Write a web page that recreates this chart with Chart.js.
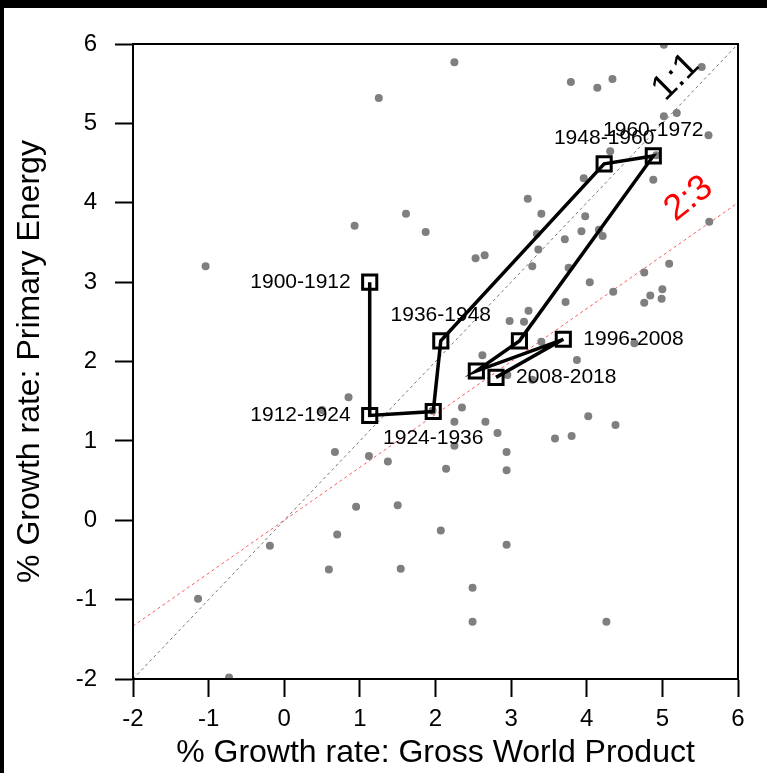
<!DOCTYPE html>
<html>
<head>
<meta charset="utf-8">
<script src="https://cdn.jsdelivr.net/npm/chart.js@4.4.1/dist/chart.umd.min.js"></script>
<style>
  html, body { margin: 0; padding: 0; background: #000; overflow: hidden; }
  #wrap { position: absolute; left: 4px; top: 8px; width: 763px; height: 765px; background: #fff; }
</style>
</head>
<body>
<div id="wrap"><canvas id="chart" width="763" height="765"></canvas></div>
<script>
// decade averages (path)
const periods = ["1900-1912", "1912-1924", "1924-1936", "1936-1948", "1948-1960",
  "1960-1972", "1972-1984", "1984-1996", "1996-2008", "2008-2018"];
const periodGwp = [1.13, 1.13, 1.97, 2.07, 4.23, 4.88, 3.11, 2.54, 3.69, 2.80];
const periodEnergy = [3.00, 1.32, 1.37, 2.26, 4.49, 4.59, 2.26, 1.88, 2.28, 1.80];
// where the label goes: left / right / above / below, "" = no label
const labelPos = ["left", "left", "below", "above", "above", "above", "", "", "right", "right"];

// yearly values (grey dots)
const yearGwp = [2.25, 1.25, 3.79, 4.14, 4.34, 5.02, 5.52, 5.02, 5.19, 5.61,
  4.31, 3.96, 4.88, 3.22, 3.40, 3.98, 3.93, 3.34, 4.16, 4.21,
  3.71, 3.36, 2.53, 2.65, 3.28, 3.76, 4.04, 4.35, 3.72, 3.23,
  2.98, 3.17, 3.40, 2.62, 3.87, 2.95, 3.28, 4.63, 5.62, 5.09,
  4.76, 5.00, 4.84, 4.99, 4.76, 0.93, 1.61, 1.87, -1.04, 0.85,
  0.50, 1.96, 2.35, 2.25, 2.66, 2.82, 4.02, 4.38, 3.58, 3.80,
  2.25, 2.94, 2.14, 2.94, 0.67, 1.12, 1.37, 0.95, 1.50, 0.70,
  -0.19, 0.59, 1.54, -1.14, -0.73, 2.07, 2.94, 2.49, 2.49, 4.26, 4.92];
const yearEnergy = [5.77, 5.32, 5.52, 5.45, 5.56, 5.99, 5.71, 5.09, 5.13, 4.85,
  4.65, 4.31, 4.29, 4.05, 3.86, 3.83, 3.64, 3.61, 3.66, 3.58,
  3.54, 3.41, 3.30, 3.34, 3.20, 3.18, 3.00, 2.88, 2.75, 2.64,
  2.51, 2.50, 2.25, 2.08, 2.02, 1.83, 1.77, 2.23, 3.76, 3.23,
  3.12, 2.91, 2.83, 2.79, 2.74, 3.71, 3.86, 3.63, 3.20, 1.55,
  1.39, 1.38, 1.42, 1.24, 1.24, 1.10, 1.31, 1.20, 1.03, 1.06,
  0.94, 0.86, 0.65, 0.63, 0.86, 0.81, 0.74, 0.17, 0.19, -0.18,
  -0.32, -0.62, -0.61, -0.99, -1.98, -0.13, -0.31, -0.85, -1.28, -1.28, 4.60];

// reference lines
const refX = [-2, 6];
const ratioOneToOne = 1;
const ratioTwoToThree = 2 / 3;

const xTicks = [-2, -1, 0, 1, 2, 3, 4, 5, 6];
const yTicks = [-2, -1, 0, 1, 2, 3, 4, 5, 6];

const FONT = "'Liberation Sans', Arial, sans-serif";

const pathPoints = periodGwp.map((x, i) => ({ x, y: periodEnergy[i] }));
const dots = yearGwp.map((x, i) => ({ x, y: yearEnergy[i] }));

const decor = {
  id: "decor",
  afterDatasetsDraw(chart) {
    const { ctx, chartArea: a, scales: { x, y } } = chart;
    ctx.save();
    // box round the plot
    ctx.strokeStyle = "#000";
    ctx.lineWidth = 2;
    ctx.strokeRect(a.left, a.top, a.right - a.left, a.bottom - a.top);

    // period labels
    ctx.fillStyle = "#000";
    ctx.font = "21px " + FONT;
    ctx.textBaseline = "middle";
    periods.forEach((p, i) => {
      const pos = labelPos[i];
      if (!pos) return;
      const px = x.getPixelForValue(periodGwp[i]);
      const py = y.getPixelForValue(periodEnergy[i]);
      if (pos === "left") { ctx.textAlign = "right"; ctx.fillText(p, px - 19, py); }
      if (pos === "right") { ctx.textAlign = "left"; ctx.fillText(p, px + 20, py); }
      if (pos === "above") { ctx.textAlign = "center"; ctx.fillText(p, px, py - 26); }
      if (pos === "below") { ctx.textAlign = "center"; ctx.fillText(p, px, py + 27); }
    });

    // ratio texts
    ctx.font = "36px " + FONT;
    ctx.textAlign = "center";
    ctx.save();
    ctx.translate(x.getPixelForValue(5.18), y.getPixelForValue(5.58));
    ctx.rotate(-45 * Math.PI / 180);
    ctx.fillStyle = "#000";
    ctx.fillText("1:1", 0, 0);
    ctx.restore();
    ctx.save();
    ctx.translate(x.getPixelForValue(5.35), y.getPixelForValue(4.05));
    ctx.rotate(-38 * Math.PI / 180);
    ctx.fillStyle = "#ff0000";
    ctx.fillText("2:3", 0, 0);
    ctx.restore();
    ctx.restore();
  }
};

const axisCommon = {
  type: "linear",
  min: -2,
  max: 6,
  border: { display: true, color: "#000", width: 2 },
  grid: { drawOnChartArea: false, drawTicks: true, tickLength: 18, tickColor: "#000", tickWidth: 2 },
};

new Chart(document.getElementById("chart"), {
  type: "scatter",
  data: {
    datasets: [
      {
        data: pathPoints,
        showLine: true,
        borderColor: "#000",
        borderWidth: 3.5,
        pointStyle: "rect",
        pointRadius: 10,
        pointBorderWidth: 3,
        pointBorderColor: "#000",
        pointBackgroundColor: "rgba(0,0,0,0)",
        order: 0,
      },
      {
        data: dots,
        pointRadius: 4,
        pointBorderWidth: 0,
        pointBackgroundColor: "#7f7f7f",
        order: 1,
      },
      {
        data: refX.map(v => ({ x: v, y: v * ratioOneToOne })),
        showLine: true,
        borderColor: "#555",
        borderWidth: 0.8,
        borderDash: [3, 3],
        pointRadius: 0,
        order: 2,
      },
      {
        data: refX.map(v => ({ x: v, y: v * ratioTwoToThree })),
        showLine: true,
        borderColor: "#ff3030",
        borderWidth: 0.8,
        borderDash: [3, 3],
        pointRadius: 0,
        order: 3,
      },
    ],
  },
  options: {
    responsive: false,
    animation: false,
    layout: { padding: { left: 0, top: 36, right: 29, bottom: 0 } },
    plugins: { legend: { display: false }, tooltip: { enabled: false } },
    scales: {
      x: {
        ...axisCommon,
        position: "bottom",
        afterBuildTicks: s => { s.ticks = xTicks.map(v => ({ value: v })); },
        afterFit: s => { s.height = 94; },
        ticks: { color: "#000", font: { family: FONT, size: 24 }, padding: 8, maxRotation: 0, autoSkip: false },
        title: {
          display: true,
          text: "% Growth rate: Gross World Product",
          color: "#000",
          font: { family: FONT, size: 32, lineHeight: 1 },
          padding: { top: 0, bottom: 4 },
        },
      },
      y: {
        ...axisCommon,
        position: "left",
        afterBuildTicks: s => { s.ticks = yTicks.map(v => ({ value: v })); },
        afterFit: s => { s.width = 129; },
        ticks: { color: "#000", font: { family: FONT, size: 24 }, padding: 18, autoSkip: false },
        title: {
          display: true,
          text: "% Growth rate: Primary Energy",
          color: "#000",
          font: { family: FONT, size: 32, lineHeight: 1 },
          padding: { top: 10, bottom: 0 },
        },
      },
    },
  },
  plugins: [decor],
});
</script>
</body>
</html>
